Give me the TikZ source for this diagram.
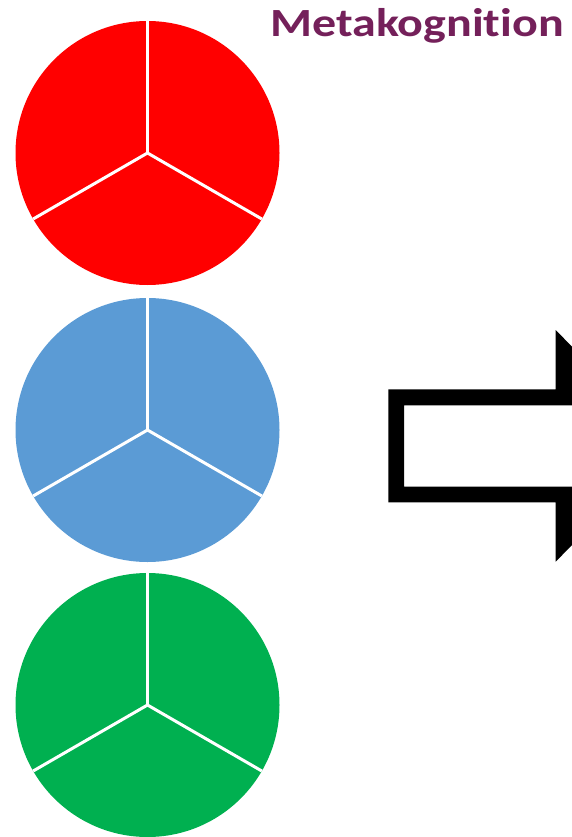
\documentclass[tikz,border=0pt]{standalone}
\usepackage{fontspec}
\setmainfont[Ligatures=NoCommon]{Carlito}
\usepackage{tikz}
\usetikzlibrary{positioning}

\definecolor{ampelrot}{RGB}{255,0,0}
\definecolor{ampelblau}{RGB}{91,155,213}
\definecolor{ampelgruen}{RGB}{0,176,80}
\definecolor{titel}{RGB}{116,32,90}

\begin{document}
\begin{tikzpicture}[x=1pt, y=-1pt,
  disc/.style={circle, minimum size=264pt, inner sep=0pt, outer sep=0pt},
  spoke/.style={white, line width=3pt},
  title/.style={font=\fontsize{40}{44}\selectfont\bfseries, text=titel,
                anchor=base east, inner sep=0pt, xscale=1.2}
]
\useasboundingbox (0,0) rectangle (572,837);
\clip (0,0) rectangle (572,837);

\node[disc, fill=ampelrot]   (rot)   at (147.5,153) {};
\node[disc, fill=ampelblau]  (blau)  at (147.5,430) {};
\node[disc, fill=ampelgruen] (gruen) at (147.5,705) {};

\foreach \c in {rot, blau, gruen}
  \foreach \a in {90, 210, 330} \draw[spoke] (\c.center) -- (\c.\a);

\node[title] (meta) at (564,36.7) {Metakognition};

% Klammer mit angeschnittenen Pfeilen
\fill[black] (555.7,330) -- (572,346.7) -- (572,405.3) -- (404,405.3)
  -- (404,486.7) -- (572,486.7) -- (572,545) -- (555.7,561.7)
  -- (555.7,502.3) -- (388.3,502.3) -- (388.3,389.3) -- (555.7,389.3) -- cycle;
\end{tikzpicture}
\end{document}
